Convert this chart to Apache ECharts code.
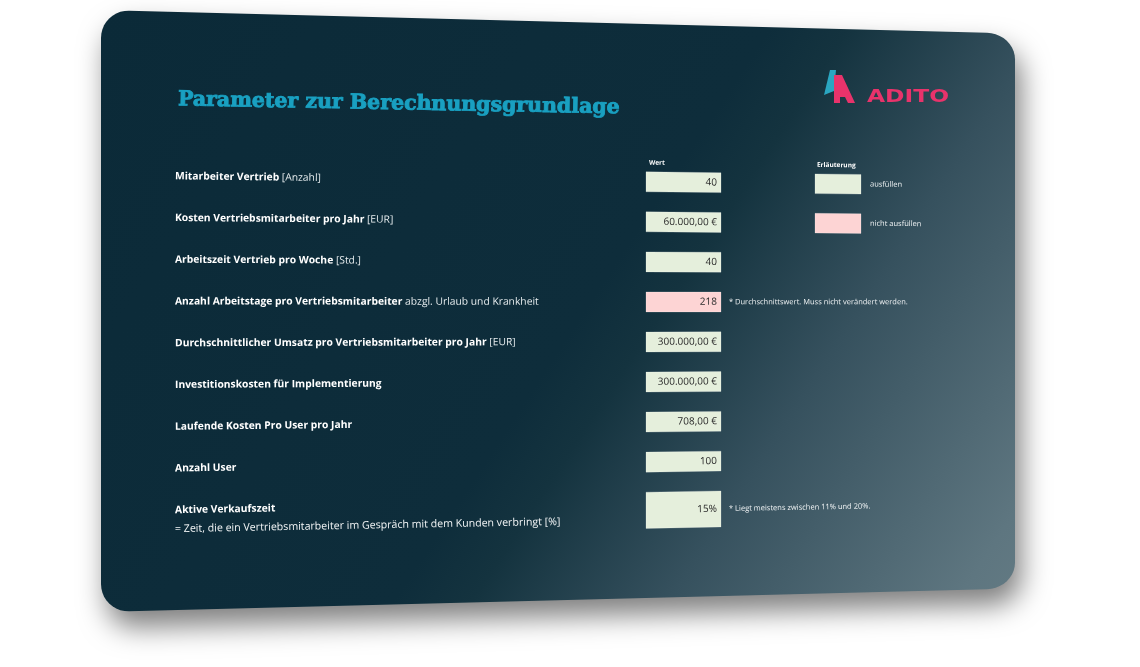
<!DOCTYPE html>
<html>
<head>
<meta charset="utf-8">
<script src="https://cdn.jsdelivr.net/npm/echarts@6/dist/echarts.min.js"></script>
<style>
  html, body { margin: 0; padding: 0; background: #ffffff; }
  #chart { width: 1140px; height: 667px; }
</style>
</head>
<body>
<div id="chart"></div>
<script>
// table content
var rowKeys = ['r1', 'r2', 'r3', 'r4', 'r5', 'r6', 'r7', 'r8', 'r9'];
var labelBold = [
  'Mitarbeiter Vertrieb',
  'Kosten Vertriebsmitarbeiter pro Jahr',
  'Arbeitszeit Vertrieb pro Woche',
  'Anzahl Arbeitstage pro Vertriebsmitarbeiter',
  'Durchschnittlicher Umsatz pro Vertriebsmitarbeiter pro Jahr',
  'Investitionskosten für Implementierung',
  'Laufende Kosten Pro User pro Jahr',
  'Anzahl User',
  'Aktive Verkaufszeit'
];
var labelNormal = [' [Anzahl]', ' [EUR]', ' [Std.]', ' abzgl. Urlaub und Krankheit', ' [EUR]', '', '', '', ''];
var labelSecond = ['', '', '', '', '', '', '', '',
  '= Zeit, die ein Vertriebsmitarbeiter im Gespräch mit dem Kunden verbringt [%]'];
var values = ['40', '60.000,00 €', '40', '218', '300.000,00 €', '300.000,00 €', '708,00 €', '100', '15%'];
var cellType = ['input', 'input', 'input', 'fixed', 'input', 'input', 'input', 'input', 'input'];
var notes = ['', '', '', '* Durchschnittswert. Muss nicht verändert werden.', '', '', '', '',
  '* Liegt meistens zwischen 11% und 20%.'];
var legendLabels = ['ausfüllen', 'nicht ausfüllen'];
var legendTypes = ['input', 'fixed'];
var titleText = 'Parameter zur Berechnungsgrundlage';
var valueHeader = 'Wert';
var legendHeader = 'Erläuterung';

var cellColors = { input: '#e5efdc', fixed: '#fdd4d4' };

// card perspective: left edge taller than right edge
var CX0 = 101, CX1 = 1015, MID = 311, SHRINK = 0.078;
function kx(x) { return 1 - SHRINK * (x - CX0) / (CX1 - CX0); }
function P(x, v) { return [x, MID + (v - MID) * kx(x)]; }
function tilt(v) { return Math.atan((v - MID) * SHRINK / (CX1 - CX0)); }

function quad(x0, x1, v0, v1) {
  return [P(x0, v0), P(x1, v0), P(x1, v1), P(x0, v1)];
}

function cardPoints() {
  var pts = [], x0 = CX0, x1 = CX1, y0 = 10, y1 = 612, r = 28;
  function arc(cx, cy, a0, a1) {
    for (var i = 0; i <= 10; i++) {
      var a = a0 + (a1 - a0) * i / 10;
      pts.push(P(cx + r * Math.cos(a), cy + r * Math.sin(a)));
    }
  }
  arc(x0 + r, y0 + r, Math.PI, 1.5 * Math.PI);
  arc(x1 - r, y0 + r, 1.5 * Math.PI, 2 * Math.PI);
  arc(x1 - r, y1 - r, 0, 0.5 * Math.PI);
  arc(x0 + r, y1 - r, 0.5 * Math.PI, Math.PI);
  return pts;
}

function textEl(x, v, str, font, fill, align, z) {
  var p = P(x, v);
  return {
    type: 'text', x: p[0], y: p[1], rotation: tilt(v), z2: z || 10,
    style: {
      text: str, font: font, fill: fill,
      align: align || 'left', verticalAlign: 'middle',
      textAlign: align || 'left', textVerticalAlign: 'middle'
    }
  };
}

var FONT = '"Open Sans", "DejaVu Sans", sans-serif';

var chart = echarts.init(document.getElementById('chart'), null, { renderer: 'canvas' });

var option = {
  animation: false,
  grid: { left: 0, right: 0, top: 154.5, bottom: 134.5 },
  xAxis: { type: 'value', min: 0, max: 1, show: false },
  yAxis: { type: 'category', data: rowKeys, inverse: true, show: false },
  graphic: [
    {
      type: 'polygon', z: 0,
      shape: { points: cardPoints() },
      style: {
        fill: new echarts.graphic.LinearGradient(0, 0, 1, 1, [
          { offset: 0, color: '#0b2a38' },
          { offset: 0.52, color: '#0e2d3b' },
          { offset: 0.58, color: '#14333f' },
          { offset: 0.73, color: '#36515e' },
          { offset: 0.95, color: '#5e7680' },
          { offset: 1, color: '#637a83' }
        ]),
        shadowBlur: 28,
        shadowOffsetX: 6,
        shadowOffsetY: 16,
        shadowColor: 'rgba(0,0,0,0.5)'
      }
    },
    {
      type: 'text', z: 20, x: 178, y: 100, rotation: tilt(100),
      style: {
        text: titleText, fill: '#19a0c1',
        stroke: '#19a0c1', lineWidth: 0.9,
        font: 'bold 20.5px "DejaVu Serif", serif',
        align: 'left', verticalAlign: 'middle'
      }
    },
    {
      type: 'polygon', z: 20,
      shape: { points: [[824, 95], [830, 70], [836, 70], [834, 91]] },
      style: { fill: '#2aa6c1' }
    },
    {
      type: 'polygon', z: 21,
      shape: { points: [[834, 75], [842, 75], [855, 103], [848, 103], [845, 97], [840, 97], [840, 103], [834, 103]] },
      style: { fill: '#e8336b' }
    },
    {
      type: 'text', z: 20, x: 867, y: 97, scaleX: 1.3,
      style: {
        text: 'ADITO', fill: '#e8336b',
        font: 'bold 18px "DejaVu Sans", sans-serif',
        align: 'left', verticalAlign: 'middle'
      }
    }
  ],
  series: [
    {
      type: 'custom',
      z: 10,
      data: rowKeys.map(function (k, i) { return [0, i]; }),
      renderItem: function (params, api) {
        var i = api.value(1);
        var c = api.coord([0, i])[1];
        var twoLine = labelSecond[i] !== '';
        var boxTop = c - 10.5;
        var boxBottom = c + 10.5 + (twoLine ? 17 : 0);
        var boxMid = (boxTop + boxBottom) / 2;
        var children = [];

        // label
        var lp = P(175, c);
        children.push({
          type: 'text', x: lp[0], y: lp[1], rotation: tilt(c), z2: 10,
          style: {
            text: '{b|' + labelBold[i] + '}' + (labelNormal[i] ? '{n|' + labelNormal[i] + '}' : ''),
            align: 'left', verticalAlign: 'middle',
            rich: {
              b: { fontFamily: FONT, fontWeight: 'bold', fontSize: 10.3, fill: '#ffffff', color: '#ffffff' },
              n: { fontFamily: FONT, fontWeight: 'normal', fontSize: 10.3, fill: '#e6ecee', color: '#e6ecee' }
            }
          }
        });
        if (twoLine) {
          children.push(textEl(175, c + 19, labelSecond[i], 'normal 10.6px ' + FONT, '#f2f5f6', 'left'));
        }

        // value cell
        children.push({
          type: 'polygon', z2: 5,
          shape: { points: quad(646, 721, boxTop, boxBottom) },
          style: { fill: cellColors[cellType[i]], stroke: 'rgba(255,255,255,0.35)', lineWidth: 0.6 }
        });
        children.push(textEl(717, boxMid, values[i], 'normal 10px ' + FONT, '#2a2a2a', 'right'));

        if (notes[i]) {
          children.push(textEl(729, boxMid, notes[i], 'normal 7.5px ' + FONT, '#f2f5f6', 'left'));
        }

        // column headers on first row
        if (i === 0) {
          children.push(textEl(649, c - 20, valueHeader, 'bold 6.5px ' + FONT, '#ffffff', 'left'));
          children.push(textEl(817, c - 20, legendHeader, 'bold 6.5px ' + FONT, '#ffffff', 'left'));
        }

        // legend cells
        if (i < legendLabels.length) {
          children.push({
            type: 'polygon', z2: 5,
            shape: { points: quad(815, 861, c - 10.5, c + 10.5) },
            style: { fill: cellColors[legendTypes[i]], stroke: 'rgba(255,255,255,0.35)', lineWidth: 0.6 }
          });
          children.push(textEl(870, c, legendLabels[i], 'normal 7.5px ' + FONT, '#f2f5f6', 'left'));
        }

        return { type: 'group', children: children };
      }
    }
  ]
};

chart.setOption(option);
window.addEventListener('resize', chart.resize);
</script>
</body>
</html>
